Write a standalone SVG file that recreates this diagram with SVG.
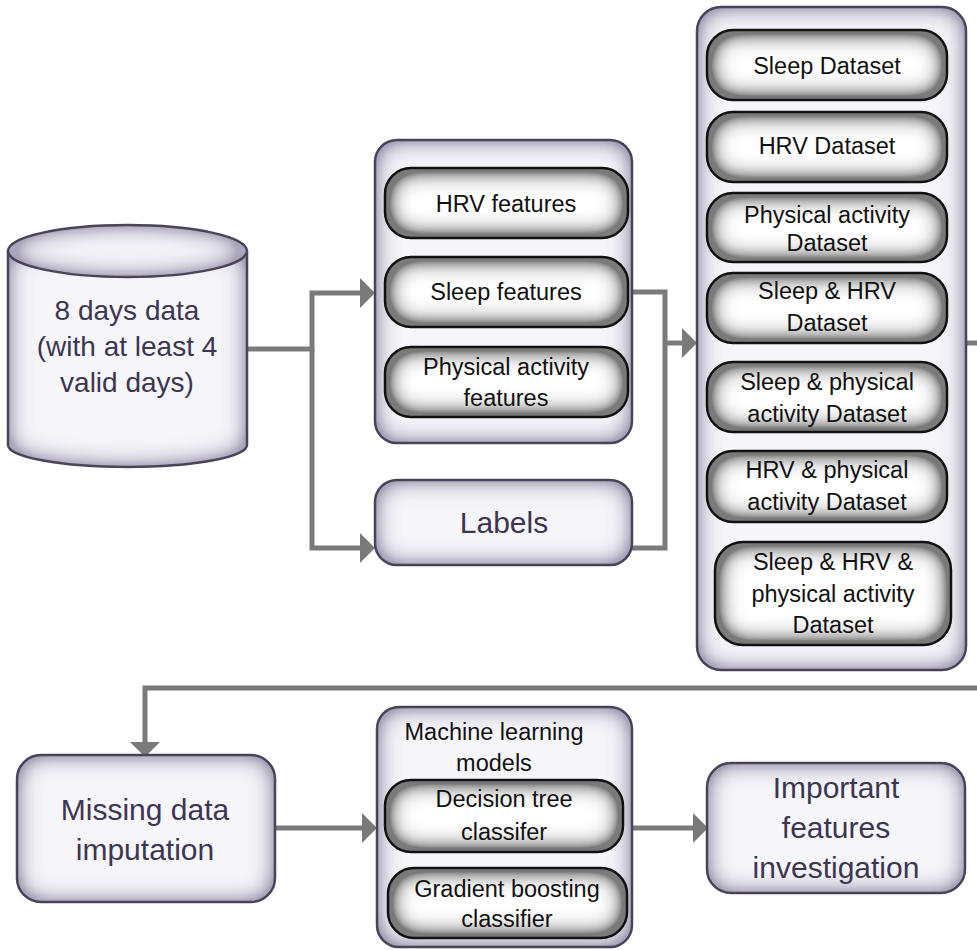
<svg xmlns="http://www.w3.org/2000/svg" width="977" height="950" viewBox="0 0 977 950">
<defs>
<filter id="glowO" x="-5%" y="-5%" width="110%" height="110%">
<feGaussianBlur in="SourceAlpha" stdDeviation="12" result="b"/>
<feComposite in="SourceAlpha" in2="b" operator="arithmetic" k2="2" k3="-2" result="e"/>
<feFlood flood-color="#aaa5bb" result="c"/>
<feComposite in="c" in2="e" operator="in" result="g"/>
<feMerge><feMergeNode in="SourceGraphic"/><feMergeNode in="g"/></feMerge>
</filter>
<filter id="glowI" x="-5%" y="-5%" width="110%" height="110%">
<feGaussianBlur in="SourceAlpha" stdDeviation="13" result="b"/>
<feComposite in="SourceAlpha" in2="b" operator="arithmetic" k2="2.6" k3="-2.6" result="e"/>
<feFlood flood-color="#7a7a7a" result="c"/>
<feComposite in="c" in2="e" operator="in" result="g"/>
<feMerge><feMergeNode in="SourceGraphic"/><feMergeNode in="g"/></feMerge>
</filter>
<marker id="ah" markerUnits="userSpaceOnUse" markerWidth="16" markerHeight="30" refX="0" refY="15" orient="auto" overflow="visible">
<path d="M0,0 L15,15 L0,30 Z" fill="#7a7a7a"/>
</marker>
</defs>
<style>
.of{fill:#f6f5fa;filter:url(#glowO)}
.os{fill:none;stroke:#4a4458;stroke-width:2.5}
.if{fill:#ffffff;filter:url(#glowI)}
.is{fill:none;stroke:#111;stroke-width:2.5}
.to{font-family:"Liberation Sans",Arial,sans-serif;font-size:30px;fill:#3d3650;text-anchor:middle}
.tc{font-family:"Liberation Sans",Arial,sans-serif;font-size:28px;fill:#3d3650;text-anchor:middle}
.ti{font-family:"Liberation Sans",Arial,sans-serif;font-size:23.5px;fill:#111;text-anchor:middle}
.cn{fill:none;stroke:#7a7a7a;stroke-width:5}
</style>
<rect width="977" height="950" fill="#ffffff"/>

<g id="connectors">
<path class="cn" d="M247,349 H312 V293 H360" marker-end="url(#ah)"/>
<path class="cn" d="M312,349 V548 H360" marker-end="url(#ah)"/>
<path class="cn" d="M628,292 H665 V548 H632"/>
<path class="cn" d="M665,343 H682" marker-end="url(#ah)"/>
<path class="cn" d="M966,343 H977"/>
<path class="cn" d="M977,688 H145 V742" marker-end="url(#ah)"/>
<path class="cn" d="M275,828 H362" marker-end="url(#ah)"/>
<path class="cn" d="M632,828 H693" marker-end="url(#ah)"/>
</g>

<g id="data8days">
<path class="of" d="M8,251 V445 A119.5,22 0 0 0 247,445 V251 Z"/>
<path class="os" d="M8,251 V445 A119.5,22 0 0 0 247,445 V251"/>
<ellipse class="of" cx="127.5" cy="251" rx="119.5" ry="26"/>
<ellipse class="os" cx="127.5" cy="251" rx="119.5" ry="26"/>
<text class="tc" x="127" y="320">8 days data</text>
<text class="tc" x="127" y="356">(with at least 4</text>
<text class="tc" x="127" y="392">valid days)</text>
</g>

<g id="features">
<rect class="of" x="375" y="140" width="257" height="303" rx="22"/>
<rect class="os" x="375" y="140" width="257" height="303" rx="22"/>
<g id="hrvFeatures">
<rect class="if" x="385" y="168" width="243" height="70" rx="26"/>
<rect class="is" x="385" y="168" width="243" height="70" rx="26"/>
<text class="ti" x="506" y="212">HRV features</text>
</g>
<g id="sleepFeatures">
<rect class="if" x="385" y="257" width="243" height="70" rx="26"/>
<rect class="is" x="385" y="257" width="243" height="70" rx="26"/>
<text class="ti" x="506" y="300">Sleep features</text>
</g>
<g id="paFeatures">
<rect class="if" x="385" y="347" width="243" height="70" rx="26"/>
<rect class="is" x="385" y="347" width="243" height="70" rx="26"/>
<text class="ti" x="506" y="375">Physical activity</text>
<text class="ti" x="506" y="406">features</text>
</g>
</g>

<g id="labels">
<rect class="of" x="375" y="480" width="257" height="85" rx="22"/>
<rect class="os" x="375" y="480" width="257" height="85" rx="22"/>
<text class="to" x="504" y="533">Labels</text>
</g>

<g id="datasets">
<rect class="of" x="697" y="7" width="269" height="663" rx="24"/>
<rect class="os" x="697" y="7" width="269" height="663" rx="24"/>
<g id="dsSleep">
<rect class="if" x="707" y="30" width="240" height="70" rx="26"/>
<rect class="is" x="707" y="30" width="240" height="70" rx="26"/>
<text class="ti" x="827" y="74">Sleep Dataset</text>
</g>
<g id="dsHrv">
<rect class="if" x="707" y="112" width="240" height="70" rx="26"/>
<rect class="is" x="707" y="112" width="240" height="70" rx="26"/>
<text class="ti" x="827" y="154">HRV Dataset</text>
</g>
<g id="dsPa">
<rect class="if" x="707" y="193" width="240" height="69" rx="26"/>
<rect class="is" x="707" y="193" width="240" height="69" rx="26"/>
<text class="ti" x="827" y="223">Physical activity</text>
<text class="ti" x="827" y="251">Dataset</text>
</g>
<g id="dsSleepHrv">
<rect class="if" x="707" y="273" width="240" height="70" rx="26"/>
<rect class="is" x="707" y="273" width="240" height="70" rx="26"/>
<text class="ti" x="827" y="299">Sleep &amp; HRV</text>
<text class="ti" x="827" y="331">Dataset</text>
</g>
<g id="dsSleepPa">
<rect class="if" x="707" y="362" width="240" height="70" rx="26"/>
<rect class="is" x="707" y="362" width="240" height="70" rx="26"/>
<text class="ti" x="827" y="390">Sleep &amp; physical</text>
<text class="ti" x="827" y="422">activity Dataset</text>
</g>
<g id="dsHrvPa">
<rect class="if" x="707" y="451" width="240" height="71" rx="26"/>
<rect class="is" x="707" y="451" width="240" height="71" rx="26"/>
<text class="ti" x="827" y="478">HRV &amp; physical</text>
<text class="ti" x="827" y="510">activity Dataset</text>
</g>
<g id="dsAll">
<rect class="if" x="715" y="542" width="236" height="103" rx="28"/>
<rect class="is" x="715" y="542" width="236" height="103" rx="28"/>
<text class="ti" x="833" y="570">Sleep &amp; HRV &amp;</text>
<text class="ti" x="833" y="602">physical activity</text>
<text class="ti" x="833" y="633">Dataset</text>
</g>
</g>

<g id="missing">
<rect class="of" x="17" y="755" width="258" height="147" rx="24"/>
<rect class="os" x="17" y="755" width="258" height="147" rx="24"/>
<text class="to" x="145" y="820">Missing data</text>
<text class="to" x="145" y="860">imputation</text>
</g>

<g id="ml">
<rect class="of" x="377" y="707" width="255" height="240" rx="22"/>
<rect class="os" x="377" y="707" width="255" height="240" rx="22"/>
<text class="ti" x="494" y="740">Machine learning</text>
<text class="ti" x="494" y="771">models</text>
<g id="dt">
<rect class="if" x="385" y="780" width="238" height="72" rx="26"/>
<rect class="is" x="385" y="780" width="238" height="72" rx="26"/>
<text class="ti" x="504" y="807">Decision tree</text>
<text class="ti" x="504" y="840">classifer</text>
</g>
<g id="gb">
<rect class="if" x="388" y="868" width="239" height="70" rx="26"/>
<rect class="is" x="388" y="868" width="239" height="70" rx="26"/>
<text class="ti" x="507" y="897">Gradient boosting</text>
<text class="ti" x="507" y="927">classifier</text>
</g>
</g>

<g id="important">
<rect class="of" x="707" y="763" width="258" height="130" rx="24"/>
<rect class="os" x="707" y="763" width="258" height="130" rx="24"/>
<text class="to" x="836" y="798">Important</text>
<text class="to" x="836" y="838">features</text>
<text class="to" x="836" y="878">investigation</text>
</g>
</svg>
